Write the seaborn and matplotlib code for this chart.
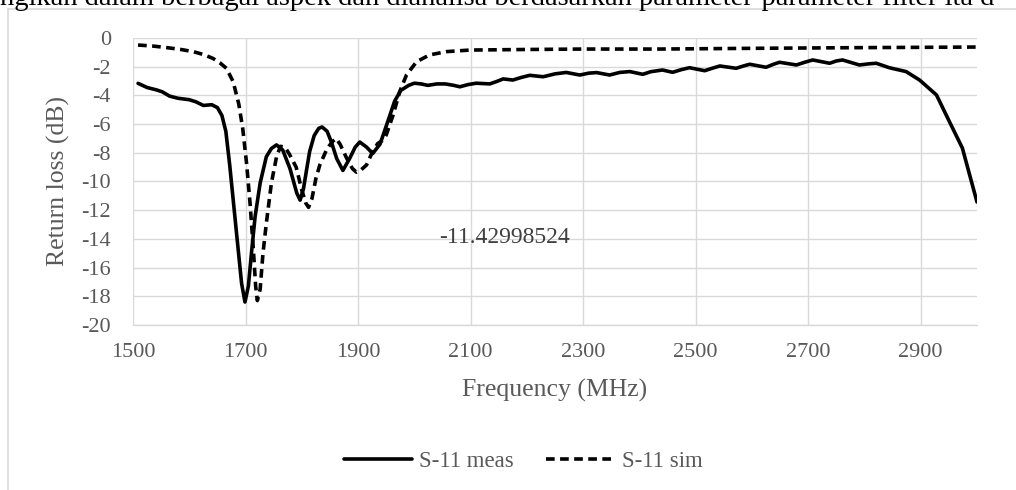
import numpy as np
import pandas as pd
import matplotlib
matplotlib.use("Agg")
import matplotlib.pyplot as plt
from matplotlib.patches import Rectangle
import seaborn as sns

# Datos (frecuencia en MHz, perdida de retorno en dB)
meas_freq = [1509, 1525, 1542, 1552, 1565, 1580, 1600, 1612, 1625, 1640, 1650, 1658, 1665,
             1672, 1684, 1693, 1699, 1705, 1711, 1717, 1726, 1737, 1746, 1755, 1766, 1779,
             1791, 1797, 1803, 1808, 1814, 1822, 1830, 1836, 1845, 1853, 1862, 1873, 1885,
             1895, 1903, 1915, 1926, 1939, 1953, 1965, 1976, 1990, 2000, 2012, 2024, 2040,
             2055, 2070, 2081, 2095, 2110, 2134, 2145, 2158, 2175, 2190, 2205, 2229, 2250,
             2270, 2294, 2310, 2324, 2347, 2365, 2383, 2406, 2420, 2441, 2459, 2475, 2489,
             2516, 2530, 2543, 2572, 2585, 2596, 2625, 2637, 2649, 2679, 2693, 2708, 2738,
             2750, 2761, 2791, 2808, 2821, 2844, 2874, 2898, 2928, 2951, 2974, 3000]
meas_db = [-3.16, -3.45, -3.62, -3.75, -4.05, -4.2, -4.3, -4.45, -4.7, -4.65, -4.85, -5.4, -6.5,
           -8.9, -13.6, -17.1, -18.4, -17.3, -14.8, -12.45, -10.1, -8.27, -7.7, -7.45, -7.8, -9.1,
           -10.8, -11.3, -10.5, -9.3, -7.9, -6.8, -6.3, -6.2, -6.5, -7.3, -8.4, -9.23, -8.4,
           -7.6, -7.25, -7.6, -8.05, -7.4, -5.8, -4.4, -3.65, -3.3, -3.15, -3.2, -3.3, -3.2,
           -3.2, -3.3, -3.4, -3.25, -3.15, -3.2, -3.05, -2.85, -2.93, -2.75, -2.6, -2.7, -2.5,
           -2.4, -2.58, -2.45, -2.41, -2.58, -2.4, -2.34, -2.53, -2.35, -2.23, -2.39, -2.2, -2.07,
           -2.28, -2.1, -1.95, -2.11, -1.95, -1.83, -2.04, -1.85, -1.69, -1.88, -1.7, -1.53, -1.76,
           -1.6, -1.53, -1.88, -1.8, -1.76, -2.07, -2.34, -2.93, -3.97, -5.83, -7.67, -11.42998524]

sim_freq = [1509, 1535, 1560, 1585, 1607, 1625, 1642, 1655, 1666, 1678, 1688, 1695, 1702, 1708,
            1714, 1718, 1721, 1726, 1731, 1737, 1746, 1755, 1762, 1770, 1778, 1790, 1800, 1807,
            1812, 1818, 1825, 1832, 1845, 1855, 1861, 1868, 1880, 1890, 1897, 1905, 1915, 1926,
            1935, 1945, 1950, 1962, 1974, 1986, 2004, 2027, 2057, 2099, 2200, 2300, 2436, 2600,
            2800, 3000]
sim_db = [-0.49, -0.56, -0.67, -0.8, -0.95, -1.15, -1.42, -1.75, -2.11, -3.04, -4.6, -6.3, -8.8,
          -11.5, -14.8, -17.3, -18.3, -17.5, -15.0, -12.9, -10.1, -8.3, -7.55, -7.6, -8.1, -9.0,
          -10.6, -11.5, -11.8, -11.2, -9.8, -8.85, -7.7, -7.2, -7.0, -7.4, -8.4, -9.1, -9.35, -9.2,
          -8.85, -7.9, -7.35, -7.1, -6.76, -5.4, -3.74, -2.58, -1.65, -1.18, -0.95, -0.84, -0.8,
          -0.77, -0.77, -0.72, -0.67, -0.63]

x_ticks = [1500, 1700, 1900, 2100, 2300, 2500, 2700, 2900]
y_ticks = [0, -2, -4, -6, -8, -10, -12, -14, -16, -18, -20]
etiqueta_valor = "-11.42998524"

df_meas = pd.DataFrame({"freq": meas_freq, "db": meas_db})
df_sim = pd.DataFrame({"freq": sim_freq, "db": sim_db})

sns.set_style("white")
plt.rcParams["font.family"] = ["Liberation Serif", "DejaVu Serif"]
plt.rcParams["axes.unicode_minus"] = False

gris = "#595959"
fig = plt.figure(figsize=(10.16, 4.9), dpi=100)
ax = fig.add_axes([133 / 1016, 1 - 325 / 490, 844 / 1016, 287 / 490])

# Marco del grafico y texto del documento cortado arriba
fig.patches.append(Rectangle((8 / 1016, -0.1), 1.2, 1 - 9 / 490 + 0.1, transform=fig.transFigure,
                             fill=False, edgecolor="#d9d9d9", linewidth=1.2))
fig.text(0.0, 1 - 5 / 490,
         "ngikan dalam berbagai aspek dan dianalisa berdasarkan parameter-parameter filter ita d",
         fontsize=20.5, va="baseline", ha="left", color="black")

sns.lineplot(data=df_meas, x="freq", y="db", ax=ax, color="black", linewidth=2.6,
             sort=False, label="S-11 meas")
sns.lineplot(data=df_sim, x="freq", y="db", ax=ax, color="black", linewidth=2.6,
             sort=False, label="S-11 sim", linestyle="--")
ax.lines[-1].set_dashes((2.4, 1.5))

ax.set_xlim(1500, 3000)
ax.set_ylim(-20, 0)
ax.set_xticks(x_ticks)
ax.set_yticks(y_ticks)
ax.set_yticklabels([str(v) for v in y_ticks])
ax.grid(True, color="#d9d9d9", linewidth=1.0)
ax.set_axisbelow(True)
for s in ["top", "right", "left"]:
    ax.spines[s].set_visible(False)
ax.spines["bottom"].set_color("#d9d9d9")
ax.spines["bottom"].set_linewidth(1.0)
ax.tick_params(axis="x", length=0, pad=13, labelsize=16, labelcolor=gris)
ax.tick_params(axis="y", length=0, pad=16, labelsize=16, labelcolor=gris)

ax.set_xlabel("Frequency (MHz)", fontsize=18.5, color=gris)
ax.set_ylabel("Return loss (dB)", fontsize=18.5, color=gris)
ax.xaxis.set_label_coords(0.5, (325 - 390) / 287)
ax.xaxis.label.set_va("center")
ax.yaxis.set_label_coords((58 - 133) / 844, 0.5)
ax.yaxis.label.set_va("center")

ax.text(2160, -13.9, etiqueta_valor, fontsize=17, color="#404040", ha="center", va="center")

leg = ax.legend(loc="center", bbox_to_anchor=(523 / 1016, 29 / 490),
                bbox_transform=fig.transFigure, ncol=2, frameon=False, fontsize=16.5,
                handlelength=3.0, handletextpad=0.3, columnspacing=1.4)
for t in leg.get_texts():
    t.set_color(gris)

fig.savefig("out.png", dpi=100)
